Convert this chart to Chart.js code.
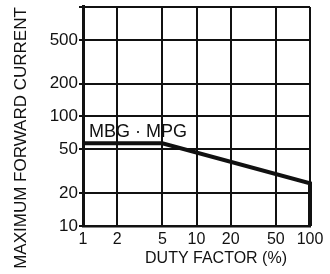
<!DOCTYPE html>
<html>
<head>
<meta charset="utf-8">
<script src="https://cdn.jsdelivr.net/npm/chart.js@4.4.1/dist/chart.umd.min.js"></script>
<style>
html, body { margin: 0; padding: 0; background: #fff; }
</style>
</head>
<body>
<canvas id="myChart" width="330" height="274"></canvas>
<script>
// dati: duty factor (%) e corrente massima
var dutyFactor = [1, 5, 100, 100];
var maxCurrent = [57, 57, 24.5, 10];
var xTicks = [1, 2, 5, 10, 20, 50, 100];
var yTicks = [10, 20, 50, 100, 200, 500, 1000];
var yLabels = ["10", "20", "50", "100", "200", "500", ""];
var seriesLabel = "MBG · MPG";
var xTitle = "DUTY FACTOR (%)";
var yTitle = "MAXIMUM FORWARD CURRENT";

var font = "'Liberation Sans', Arial, sans-serif";

var punti = dutyFactor.map(function (d, i) {
    return { x: d, y: maxCurrent[i] };
});

// testi sopra il grafico
var testi = {
    id: "testi",
    afterDraw: function (chart) {
        var c = chart.ctx;
        var sx = chart.scales.x;
        var sy = chart.scales.y;
        c.save();
        c.fillStyle = "#111";
        c.textBaseline = "middle";
        c.font = "18px " + font;
        c.textAlign = "left";
        c.fillText(seriesLabel, sx.getPixelForValue(1) + 6, sy.getPixelForValue(72));
        c.textAlign = "center";
        c.font = "16px " + font;
        c.fillText(xTitle, 216, 259);
        c.translate(21, 138);
        c.rotate(-Math.PI / 2);
        c.font = "17px " + font;
        c.fillText(yTitle, 0, 0);
        c.restore();
    }
};

var ctx = document.getElementById("myChart");
var myChart = new Chart(ctx, {
    type: "line",
    data: {
        datasets: [
            {
                label: seriesLabel,
                data: punti,
                borderColor: "#111",
                borderWidth: 4,
                pointRadius: 0,
                tension: 0,
                clip: 4
            }
        ]
    },
    options: {
        responsive: false,
        animation: false,
        layout: { padding: { top: 6, right: 20, bottom: 0, left: 0 } },
        plugins: {
            legend: { display: false },
            tooltip: { enabled: false }
        },
        scales: {
            x: {
                type: "logarithmic",
                min: 1,
                max: 100,
                afterBuildTicks: function (scale) {
                    scale.ticks = xTicks.map(function (v) { return { value: v }; });
                },
                afterFit: function (scale) { scale.height = 48; },
                ticks: {
                    autoSkip: false,
                    maxRotation: 0,
                    padding: 4,
                    color: "#111",
                    font: { family: font, size: 16 },
                    callback: function (v) { return String(v); }
                },
                grid: { color: "#111", lineWidth: 2, drawTicks: false },
                border: { color: "#111", width: 2.5 }
            },
            y: {
                type: "logarithmic",
                min: 10,
                max: 1000,
                afterBuildTicks: function (scale) {
                    scale.ticks = yTicks.map(function (v) { return { value: v }; });
                },
                afterFit: function (scale) { scale.width = 83; },
                ticks: {
                    autoSkip: false,
                    padding: 1,
                    color: "#111",
                    font: { family: font, size: 17, lineHeight: 0.7 },
                    callback: function (v) {
                        return yLabels[yTicks.indexOf(v)];
                    }
                },
                grid: { color: "#111", lineWidth: 2, tickLength: 4 },
                border: { color: "#111", width: 3 }
            }
        }
    },
    plugins: [testi]
});
</script>
</body>
</html>
